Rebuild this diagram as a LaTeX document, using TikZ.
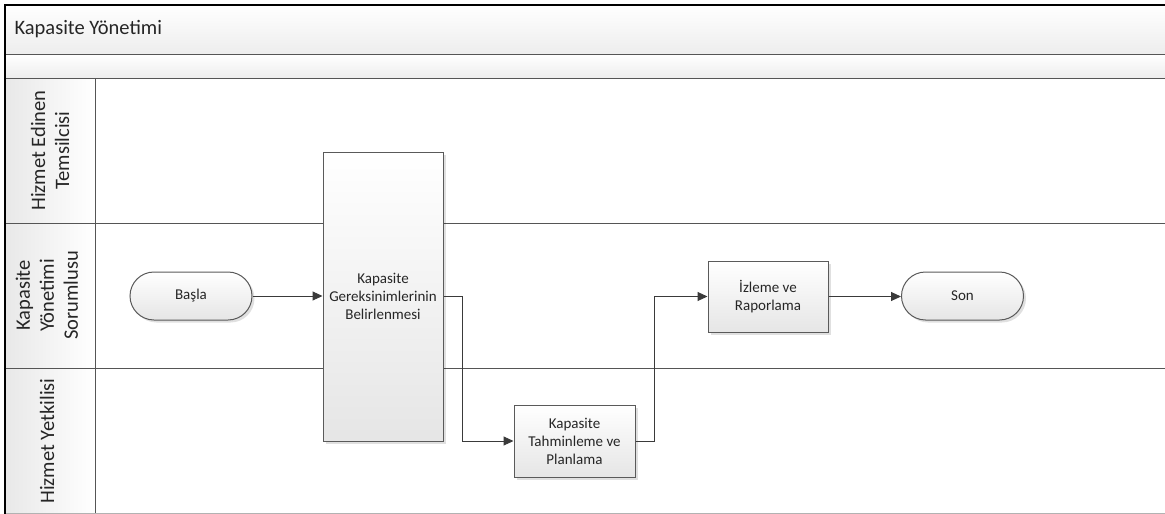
\documentclass[tikz,border=0pt]{standalone}
\usepackage{fontspec}
\setmainfont{Carlito}
\usetikzlibrary{arrows.meta,shadows}
\definecolor{rule}{HTML}{555555}
\definecolor{edge}{HTML}{5A5A5A}
\definecolor{wire}{HTML}{3A3A3A}
\begin{document}
\begin{tikzpicture}[x=1pt,y=-1pt,
  laneline/.style={draw=rule, line width=1pt},
  band/.style={top color=white, bottom color=black!7, draw=none},
  lanehead/.style={left color=black!9, right color=white, draw=none},
  headtext/.style={rotate=90, align=center, font=\fontsize{20.5}{24}\selectfont, text=black!85},
  boxbase/.style={draw=edge, line width=1pt, top color=white, bottom color=black!10,
    align=center, font=\fontsize{15}{18}\selectfont, text=black!85, inner sep=1pt,
    drop shadow={shadow xshift=2.5pt, shadow yshift=-2.5pt, fill=black, opacity=0.12}},
  task/.style={boxbase, rectangle},
  terminal/.style={boxbase, rectangle, rounded corners=24pt, minimum width=122pt, minimum height=48pt},
  flow/.style={draw=wire, line width=1pt, -{Triangle[length=10pt,width=9pt]}},
  link/.style={draw=wire, line width=1pt}
]
\useasboundingbox (0,0) rectangle (1165,514);
\fill[white] (0,0) rectangle (1165,514);

% title bands
\path[band] (5,5) rectangle (1165,54);
\path[band] (5,54) rectangle (1165,78);
\node[anchor=west, font=\fontsize{20.5}{24}\selectfont, text=black!85] (title) at (11,29.5) {Kapasite Yönetimi};

% lane header cells
\path[lanehead] (5,78) rectangle (95,223);
\path[lanehead] (5,223) rectangle (95,368);
\path[lanehead] (5,368) rectangle (95,513);
\node[headtext] (lane1) at (50,150.5) {Hizmet Edinen\\Temsilcisi};
\node[headtext] (lane2) at (47,295.5) {Kapasite\\Yönetimi\\Sorumlusu};
\node[headtext] (lane3) at (47,441) {Hizmet Yetkilisi};

% lane separators
\draw[laneline] (5,54) -- (1165,54);
\draw[laneline] (5,78) -- (1165,78);
\draw[laneline] (5,223) -- (1165,223);
\draw[laneline] (5,368) -- (1165,368);
\draw[draw=black!30, line width=1pt] (5,513) -- (1165,513);
\draw[laneline] (95,78) -- (95,513);

% outer frame
\draw[black, line width=2.5pt] (5,513.5) -- (5,5) -- (1165,5);

% process steps
\node[terminal] (start) at (191,296) {Başla};
\node[task, minimum width=120pt, minimum height=289pt] (req) at (383,296.5)
  {Kapasite\\Gereksinimlerinin\\Belirlenmesi};
\node[task, minimum width=121pt, minimum height=72pt] (plan) at (574.5,441)
  {Kapasite\\Tahminleme ve\\Planlama};
\node[task, minimum width=120pt, minimum height=71pt] (mon) at (768,296.5)
  {İzleme ve\\Raporlama};
\node[terminal] (stop) at (962.5,296) {Son};

% connectors
\draw[flow] (start.east) -- (start.east -| req.west);
\draw[flow] (req.east) -- ++(19,0) |- (plan.west);
\draw[flow] (plan.east) -- ++(19,0) |- (mon.west);
\draw[flow] (mon.east) -- (mon.east -| stop.west);
\end{tikzpicture}
\end{document}
